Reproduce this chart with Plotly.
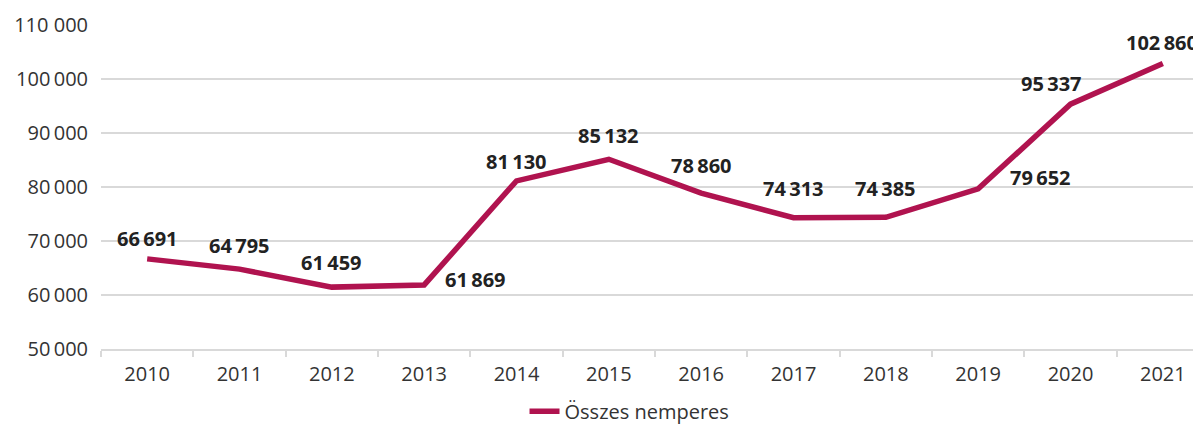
import plotly.graph_objects as go

years = [2010, 2011, 2012, 2013, 2014, 2015, 2016, 2017, 2018, 2019, 2020, 2021]
values = [66691, 64795, 61459, 61869, 81130, 85132, 78860, 74313, 74385, 79652, 95337, 102860]
labels = ["66\u2009691", "64\u2009795", "61\u2009459", "61\u2009869", "81\u2009130", "85\u2009132",
          "78\u2009860", "74\u2009313", "74\u2009385", "79\u2009652", "95\u2009337", "102\u2009860"]
# label offsets in pixels (x, y)
offsets = [(0, 20), (0, 24), (0, 25), (51, 5), (0, 19), (0, 24),
           (0, 28), (0, 29), (0, 29), (62, 11), (-19, 21), (-1, 21)]
ytick_vals = [50000, 60000, 70000, 80000, 90000, 100000, 110000]
ytick_text = ["50\u2009000", "60\u2009000", "70\u2009000", "80\u2009000", "90\u2009000", "100\u2009000", "110 000"]

color = "#b0134f"
font = "Open Sans"

fig = go.Figure()
fig.add_trace(go.Scatter(x=years, y=values, mode="lines", name="Összes nemperes",
                         line=dict(color=color, width=5.5)))

for yr, v, lab, (dx, dy) in zip(years, values, labels, offsets):
    fig.add_annotation(x=yr, y=v, text="<b>" + lab + "</b>", showarrow=False,
                       xshift=dx, yshift=dy,
                       font=dict(family=font, size=20, color="#222222"))

boundaries = [y - 0.5 for y in years] + [years[-1] + 0.5]

fig.update_layout(
    width=1201, height=425,
    margin=dict(l=93, r=0, t=17, b=84, autoexpand=False),
    paper_bgcolor="white", plot_bgcolor="white",
    font=dict(family=font, size=20, color="#333333"),
    showlegend=True,
    legend=dict(orientation="h", x=0.477, xanchor="center", y=-0.132, yanchor="top",
                font=dict(family=font, size=20, color="#333333")),
)
fig.update_xaxes(range=[years[0] - 0.5, years[-1] + 0.5], tickvals=years,
                 ticktext=[str(y) for y in years], automargin=False,
                 showgrid=False, showline=True, linecolor="#d9d9d9", linewidth=2,
                 ticks="", ticklabelstandoff=6,
                 minor=dict(tickvals=boundaries, ticks="outside", ticklen=6,
                            tickcolor="#d9d9d9", tickwidth=2, showgrid=False),
                 tickfont=dict(family=font, size=20, color="#333333"), zeroline=False)
fig.update_yaxes(range=[50000, 110000], tickvals=ytick_vals, ticktext=ytick_text,
                 automargin=False,
                 showgrid=True, gridcolor="#d9d9d9", gridwidth=2, zeroline=False,
                 showline=False, ticks="", ticklabelstandoff=12,
                 tickfont=dict(family=font, size=20, color="#333333"))

fig.write_html("out.html")
